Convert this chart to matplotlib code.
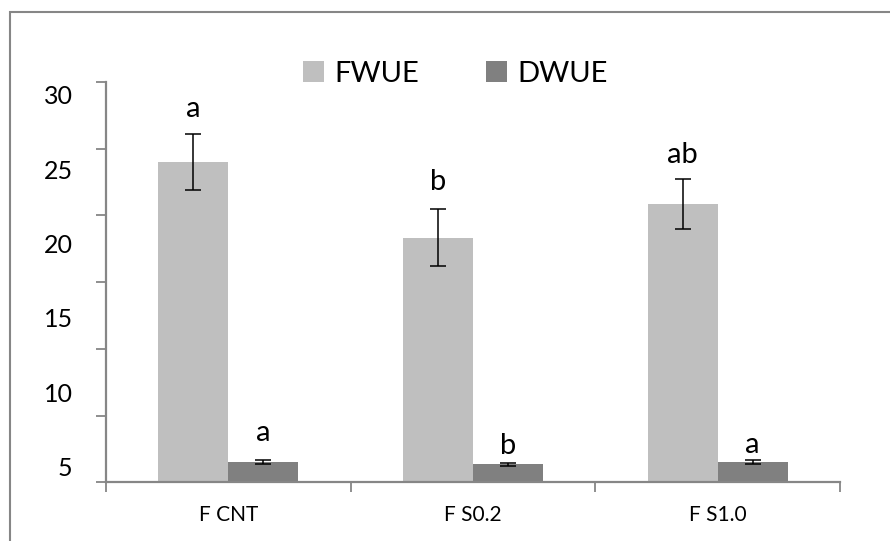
import numpy as np
import matplotlib
matplotlib.use('Agg')
import matplotlib.pyplot as plt
from matplotlib.patches import Rectangle

plt.rcParams['font.family'] = ['Lato', 'DejaVu Sans']

#%% Daten
groups = ['F CNT', 'F S0.2', 'F S1.0']
series = ['FWUE', 'DWUE']
fwue = [25.47, 20.40, 22.67]
fwue_err = [1.88, 1.90, 1.69]
dwue = [5.34, 5.16, 5.32]
dwue_err = [0.13, 0.12, 0.13]
fwue_letters = ['a', 'b', 'ab']
dwue_letters = ['a', 'b', 'a']
yticks = [5, 10, 15, 20, 25, 30]

# Abstand Buchstabe ueber Fehlerbalken [pt]
fwue_off = [12.5, 13.9, 11.5]
dwue_off = [13.7, 5.8, 5.0]

col_f = '#bfbfbf'
col_d = '#808080'
grey = '#868686'

#%% Plot
fig = plt.figure(figsize=(8.9, 5.41), dpi=100)
ax = fig.add_axes([106/890, 1-482.3/541, (840-106)/890, (482.3-82)/541])

x = np.arange(len(groups))
w = 0.286
ax.bar(x - w/2, fwue, w, color=col_f, label=series[0], zorder=2)
ax.bar(x + w/2, dwue, w, color=col_d, label=series[1], zorder=2)
ax.errorbar(x - w/2, fwue, yerr=fwue_err, fmt='none', ecolor='black', elinewidth=1.1, capsize=5.5, capthick=1.1, zorder=3)
ax.errorbar(x + w/2, dwue, yerr=dwue_err, fmt='none', ecolor='black', elinewidth=1.1, capsize=5.5, capthick=1.1, zorder=3)

for i in range(len(groups)):
    ax.annotate(fwue_letters[i], (x[i] - w/2, fwue[i] + fwue_err[i]), xytext=(0, fwue_off[i]),
                textcoords='offset points', ha='center', va='baseline', fontsize=21)
    ax.annotate(dwue_letters[i], (x[i] + w/2, dwue[i] + dwue_err[i]), xytext=(0, dwue_off[i]),
                textcoords='offset points', ha='center', va='baseline', fontsize=21)

ylo, yhi = 3.95, 30.87
ax.set_ylim(ylo, yhi)
ax.set_xlim(-0.5, len(groups) - 0.5)

# y: Beschriftung ohne Striche, Striche extra
ax.set_yticks(yticks)
ax.set_yticklabels([str(v) for v in yticks])
ax.tick_params(axis='y', which='major', length=0, pad=24, labelsize=18)
ax.set_yticks(np.linspace(ylo, yhi, 7), minor=True)
ax.tick_params(axis='y', which='minor', length=7, width=1.3, color=grey)

# x: Striche an den Gruppengrenzen
ax.set_xticks(x)
ax.set_xticklabels(groups)
ax.tick_params(axis='x', which='major', length=0, pad=16, labelsize=15)
ax.set_xticks(np.arange(len(groups) + 1) - 0.5, minor=True)
ax.tick_params(axis='x', which='minor', length=7, width=1.3, color=grey)

for s in ['top', 'right']:
    ax.spines[s].set_visible(False)
for s in ['left', 'bottom']:
    ax.spines[s].set_color(grey)
    ax.spines[s].set_linewidth(1.6)

fig.legend(loc='center', bbox_to_anchor=(455/890, 1-74/541), ncol=2, frameon=False,
           fontsize=21, handlelength=0.72, handleheight=0.72, handletextpad=0.35,
           columnspacing=2.3)

# Rahmen um das Diagramm
fig.patches.append(Rectangle((10/890, -0.2), 1.2, 1.2 - 12/541, transform=fig.transFigure,
                             fill=False, edgecolor=grey, linewidth=1.5))

fig.savefig('out.png', dpi=100)
